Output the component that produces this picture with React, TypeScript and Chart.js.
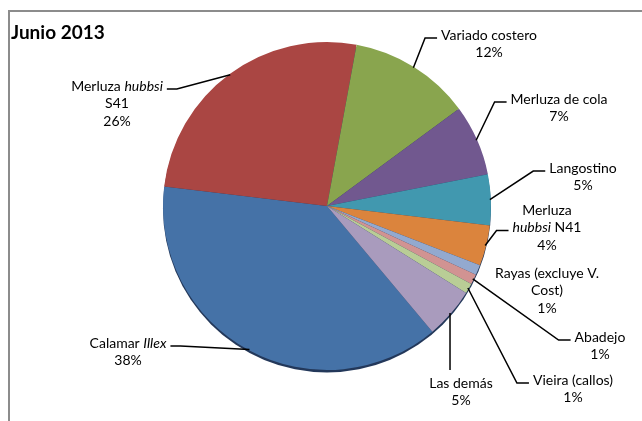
import React, { useEffect, useRef } from "react";
import { Chart, registerables } from "chart.js";

Chart.register(...registerables);

// ---- data ----
const TITLE = "Junio 2013";
const CATEGORIES = [
  "Calamar Illex",
  "Merluza hubbsi\nS41",
  "Variado costero",
  "Merluza de cola",
  "Langostino",
  "Merluza\nhubbsi N41",
  "Rayas (excluye V.\nCost)",
  "Abadejo",
  "Vieira (callos)",
  "Las demás",
];
const SHARES = [38, 26, 12, 7, 5, 4, 1, 1, 1, 5];
const ITALIC_WORDS = ["Illex", "hubbsi"];

// ---- styles / layout ----
const COLORS = [
  "#4572A7",
  "#AA4643",
  "#89A54E",
  "#71588F",
  "#4198AF",
  "#DB843D",
  "#93A9CF",
  "#D19392",
  "#B9CD96",
  "#A99BBD",
];
const FONT_FAMILY = 'Lato, "Open Sans", "DejaVu Sans", sans-serif';
const LABEL_SIZE = 14;
const LINE_H = 17.5;

// label text-block centre relative to pie centre (first line), and leader style
const LABEL_LAYOUT = [
  { dx: -199, dy: 137, leader: "right", line: 0 },
  { dx: -210, dy: -120, leader: "right", line: 0 },
  { dx: 162, dy: -171, leader: "left", line: 0 },
  { dx: 232, dy: -107, leader: "left", line: 0 },
  { dx: 256, dy: -38, leader: "left", line: 0 },
  { dx: 220, dy: 4, leader: "left", line: 1 },
  { dx: 220, dy: 67, leader: "none", line: 0 },
  { dx: 273, dy: 131, leader: "left", line: 0 },
  { dx: 246, dy: 174, leader: "left", line: 0 },
  { dx: 134, dy: 177, leader: "down", line: 0 },
];

type Seg = { text: string; italic: boolean };

function toSegments(line: string): Seg[] {
  const parts = line.split(/(\s+)/);
  return parts
    .filter((p) => p.length > 0)
    .map((p) => ({ text: p, italic: ITALIC_WORDS.includes(p) }));
}

function fontOf(italic: boolean) {
  return `${italic ? "italic " : ""}${LABEL_SIZE}px ${FONT_FAMILY}`;
}

function segWidth(ctx: CanvasRenderingContext2D, segs: Seg[]) {
  let w = 0;
  for (const s of segs) {
    ctx.font = fontOf(s.italic);
    w += ctx.measureText(s.text).width;
  }
  return w;
}

function drawSegs(ctx: CanvasRenderingContext2D, segs: Seg[], cx: number, cy: number) {
  const w = segWidth(ctx, segs);
  let x = cx - w / 2;
  for (const s of segs) {
    ctx.font = fontOf(s.italic);
    ctx.fillText(s.text, x, cy);
    x += ctx.measureText(s.text).width;
  }
}

const pieDecor = {
  id: "pieDecor",
  beforeDatasetsDraw(chart: any) {
    const meta = chart.getDatasetMeta(0);
    const a: any = meta.data[0];
    if (!a) return;
    const ctx: CanvasRenderingContext2D = chart.ctx;
    ctx.save();
    ctx.beginPath();
    ctx.arc(a.x, a.y + 2.5, a.outerRadius, 0, Math.PI * 2);
    ctx.fillStyle = "#23385a";
    ctx.fill();
    ctx.restore();
  },
  afterDatasetsDraw(chart: any) {
    const meta = chart.getDatasetMeta(0);
    const ctx: CanvasRenderingContext2D = chart.ctx;
    const values: number[] = chart.data.datasets[0].data;
    const total = values.reduce((s, v) => s + v, 0);
    ctx.save();
    ctx.fillStyle = "#000";
    ctx.strokeStyle = "#000";
    ctx.lineWidth = 1.5;
    ctx.textBaseline = "middle";
    meta.data.forEach((arc: any, i: number) => {
      const lay = LABEL_LAYOUT[i];
      const cx = arc.x + lay.dx;
      const cy = arc.y + lay.dy;
      const lines = String(chart.data.labels[i]).split("\n");
      lines.push(Math.round((values[i] / total) * 100) + "%");
      const segLines = lines.map(toSegments);
      segLines.forEach((segs, k) => drawSegs(ctx, segs, cx, cy + k * LINE_H));

      const mid = (arc.startAngle + arc.endAngle) / 2;
      const r = arc.outerRadius - 1;
      const sx = arc.x + Math.cos(mid) * r;
      const sy = arc.y + Math.sin(mid) * r;
      const lineY = cy + lay.line * LINE_H;
      const w = segWidth(ctx, segLines[lay.line]);
      ctx.beginPath();
      if (lay.leader === "left") {
        const ex = cx - w / 2 - 4;
        const ey = lineY + 3;
        ctx.moveTo(sx, sy);
        ctx.lineTo(ex - 12, ey);
        ctx.lineTo(ex, ey);
        ctx.stroke();
      } else if (lay.leader === "right") {
        const ex = cx + w / 2 + 4;
        const ey = lineY + 3;
        ctx.moveTo(sx, sy);
        ctx.lineTo(ex + 10, ey);
        ctx.lineTo(ex, ey);
        ctx.stroke();
      } else if (lay.leader === "down") {
        ctx.moveTo(sx, sy);
        ctx.lineTo(sx, cy - 13);
        ctx.stroke();
      }
    });
    // title
    ctx.textBaseline = "alphabetic";
    ctx.font = `bold 19px ${FONT_FAMILY}`;
    ctx.fillText(TITLE, 11, 39);
    ctx.restore();
  },
};

export default function App() {
  const ref = useRef<HTMLCanvasElement | null>(null);
  useEffect(() => {
    if (!ref.current) return;
    const chart = new Chart(ref.current, {
      type: "pie",
      data: {
        labels: CATEGORIES,
        datasets: [
          {
            data: SHARES,
            backgroundColor: COLORS,
            borderWidth: 0,
            hoverOffset: 0,
            offset: 0,
          } as any,
        ],
      },
      options: {
        responsive: false,
        animation: false,
        rotation: 140,
        layout: { padding: { left: 163, right: 151, top: 42, bottom: 51 } },
        plugins: {
          legend: { display: false },
          tooltip: { enabled: false },
          title: { display: false },
        },
      },
      plugins: [pieDecor],
    });
    return () => chart.destroy();
  }, []);
  return (
    <div
      style={{
        position: "fixed",
        left: 0,
        top: 0,
        width: 642,
        height: 421,
        background: "#fff",
        overflow: "hidden",
      }}
    >
      <div
        style={{
          position: "absolute",
          left: 8,
          top: 10,
          width: 700,
          height: 500,
          borderLeft: "2px solid #8c8c8c",
          borderTop: "2px solid #8c8c8c",
        }}
      />
      <canvas
        ref={ref}
        width={642}
        height={421}
        style={{ position: "absolute", left: 0, top: 0, width: 642, height: 421 }}
      />
    </div>
  );
}
